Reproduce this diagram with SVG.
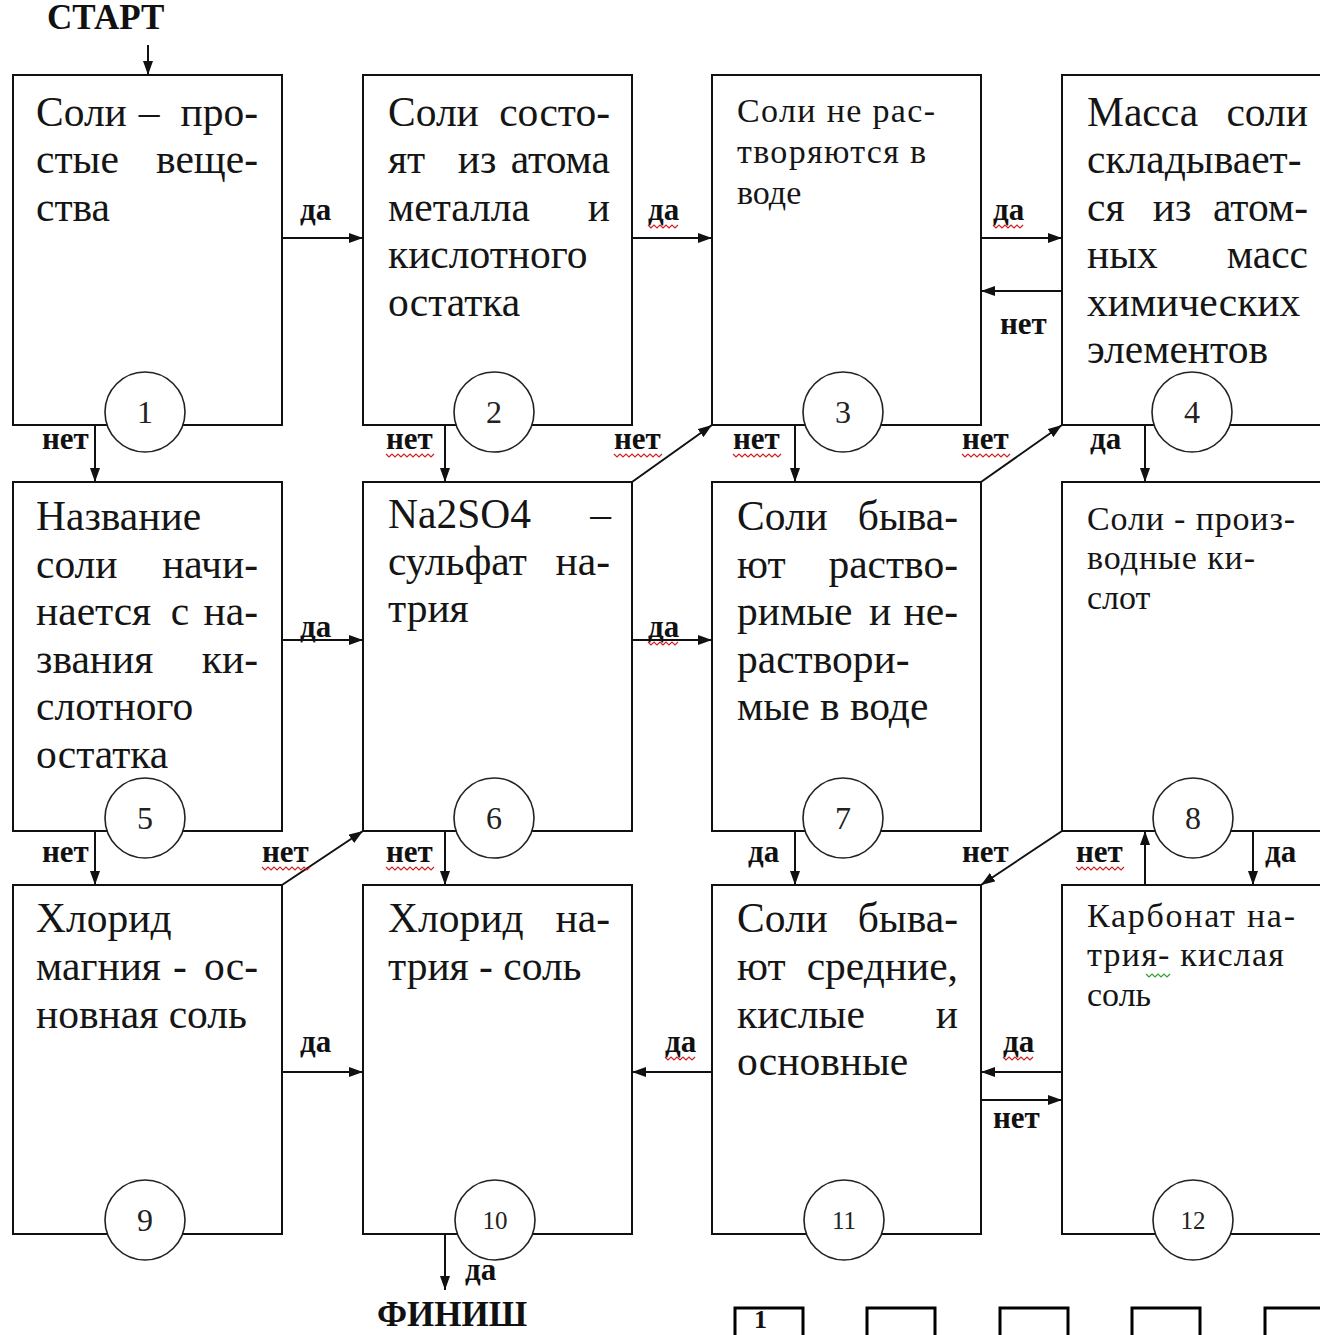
<svg xmlns="http://www.w3.org/2000/svg" xmlns:xlink="http://www.w3.org/1999/xlink" width="1320" height="1335" viewBox="0 0 1320 1335">
<style>
.box{fill:#fff;stroke:#111;stroke-width:2}
.cir{fill:#fff;stroke:#222;stroke-width:1.6}
.t{font-family:"Liberation Serif","DejaVu Serif",serif;font-size:41.5px;fill:#151515}
.ts{font-family:"Liberation Serif","DejaVu Serif",serif;font-size:34px;fill:#151515}
.e{text-anchor:end}
.m{text-anchor:middle}
.num{font-family:"Liberation Serif","DejaVu Serif",serif;font-size:32px;fill:#222;text-anchor:middle}
.nums{font-family:"Liberation Serif","DejaVu Serif",serif;font-size:25px;fill:#222;text-anchor:middle}
.lb{font-family:"Liberation Serif","DejaVu Serif",serif;font-size:31px;font-weight:bold;fill:#111}
.big{font-family:"Liberation Serif","DejaVu Serif",serif;font-size:35px;font-weight:bold;fill:#111}
.con line{stroke:#111;stroke-width:2;marker-end:url(#ah)}
.sq{fill:none;stroke:#d02020;stroke-width:1.2}
.sqg{fill:none;stroke:#30a030;stroke-width:1.2}
.ans{fill:none;stroke:#000;stroke-width:3}
</style>
<defs>
<marker id="ah" viewBox="0 0 14 10" refX="14" refY="5" markerWidth="14" markerHeight="10" orient="auto" markerUnits="userSpaceOnUse">
<path d="M0,0 L14,5 L0,10 z" fill="#111"/>
</marker>
<path id="sq3" class="sq" d="M0,0 l3,3 l3,-3 l3,3 l3,-3 l3,3 l3,-3 l3,3 l3,-3 l3,3 l3,-3 l3,3 l3,-3 l3,3 l3,-3 l3,3 l3,-3"/>
<path id="sq2" class="sq" d="M0,0 l3,3 l3,-3 l3,3 l3,-3 l3,3 l3,-3 l3,3 l3,-3 l3,3 l3,-3"/>
</defs>
<rect width="1320" height="1335" fill="#fff"/>

<text class="big" x="47" y="29">СТАРТ</text>
<text class="big" x="377" y="1326">ФИНИШ</text>

<g id="n1"><rect class="box" x="13" y="75" width="269" height="350"/><circle class="cir" cx="145" cy="412" r="40"/><text class="num" x="145" y="423">1</text>
<text class="t" x="36" y="126">Соли</text><text class="t m" x="149" y="126">–</text><text class="t e" x="258" y="126">про-</text>
<text class="t" x="36" y="173">стые</text><text class="t e" x="258" y="173">веще-</text>
<text class="t" x="36" y="221">ства</text></g>

<g id="n2"><rect class="box" x="363" y="75" width="269" height="350"/><circle class="cir" cx="494" cy="412" r="40"/><text class="num" x="494" y="423">2</text>
<text class="t" x="388" y="126">Соли</text><text class="t e" x="610" y="126">состо-</text>
<text class="t" x="388" y="173">ят</text><text class="t m" x="477" y="173">из</text><text class="t e" x="610" y="173">атома</text>
<text class="t" x="388" y="221">металла</text><text class="t e" x="610" y="221">и</text>
<text class="t" x="388" y="268">кислотного</text>
<text class="t" x="388" y="316">остатка</text></g>

<g id="n3"><rect class="box" x="712" y="75" width="269" height="350"/><circle class="cir" cx="843" cy="412" r="40"/><text class="num" x="843" y="423">3</text>
<text class="ts" x="737" y="122" textLength="198" lengthAdjust="spacing">Соли не рас-</text>
<text class="ts" x="737" y="163" textLength="189" lengthAdjust="spacing">творяются в</text>
<text class="ts" x="737" y="204">воде</text></g>

<g id="n4"><rect class="box" x="1062" y="75" width="270" height="350"/><circle class="cir" cx="1192" cy="412" r="40"/><text class="num" x="1192" y="423">4</text>
<text class="t" x="1087" y="126">Масса</text><text class="t e" x="1308" y="126">соли</text>
<text class="t" x="1087" y="173">складывает-</text>
<text class="t" x="1087" y="221">ся</text><text class="t m" x="1172" y="221">из</text><text class="t e" x="1308" y="221">атом-</text>
<text class="t" x="1087" y="268">ных</text><text class="t e" x="1308" y="268">масс</text>
<text class="t" x="1087" y="316">химических</text>
<text class="t" x="1087" y="363">элементов</text></g>

<g id="n5"><rect class="box" x="13" y="482" width="269" height="349"/><circle class="cir" cx="145" cy="818" r="40"/><text class="num" x="145" y="829">5</text>
<text class="t" x="36" y="530">Название</text>
<text class="t" x="36" y="578">соли</text><text class="t e" x="258" y="578">начи-</text>
<text class="t" x="36" y="625">нается</text><text class="t m" x="180" y="625">с</text><text class="t e" x="258" y="625">на-</text>
<text class="t" x="36" y="673">звания</text><text class="t e" x="258" y="673">ки-</text>
<text class="t" x="36" y="720">слотного</text>
<text class="t" x="36" y="768">остатка</text></g>

<g id="n6"><rect class="box" x="363" y="482" width="269" height="349"/><circle class="cir" cx="494" cy="818" r="40"/><text class="num" x="494" y="829">6</text>
<text class="t" x="388" y="528">Na2SO4</text><text class="t e" x="611" y="528">–</text>
<text class="t" x="388" y="575">сульфат</text><text class="t e" x="610" y="575">на-</text>
<text class="t" x="388" y="622">трия</text></g>

<g id="n7"><rect class="box" x="712" y="482" width="269" height="349"/><circle class="cir" cx="843" cy="818" r="40"/><text class="num" x="843" y="829">7</text>
<text class="t" x="737" y="530">Соли</text><text class="t e" x="958" y="530">быва-</text>
<text class="t" x="737" y="578">ют</text><text class="t e" x="958" y="578">раство-</text>
<text class="t" x="737" y="625">римые</text><text class="t m" x="880" y="625">и</text><text class="t e" x="958" y="625">не-</text>
<text class="t" x="737" y="673">раствори-</text>
<text class="t" x="737" y="720">мые в воде</text></g>

<g id="n8"><rect class="box" x="1062" y="482" width="270" height="349"/><circle class="cir" cx="1193" cy="818" r="40"/><text class="num" x="1193" y="829">8</text>
<text class="ts" x="1087" y="530" textLength="208" lengthAdjust="spacing">Соли - произ-</text>
<text class="ts" x="1087" y="569" textLength="168" lengthAdjust="spacing">водные ки-</text>
<text class="ts" x="1087" y="609">слот</text></g>

<g id="n9"><rect class="box" x="13" y="885" width="269" height="349"/><circle class="cir" cx="145" cy="1220" r="40"/><text class="num" x="145" y="1231">9</text>
<text class="t" x="36" y="932">Хлорид</text>
<text class="t" x="36" y="980">магния</text><text class="t m" x="180" y="980">-</text><text class="t e" x="258" y="980">ос-</text>
<text class="t" x="36" y="1028">новная соль</text></g>

<g id="n10"><rect class="box" x="363" y="885" width="269" height="349"/><circle class="cir" cx="495" cy="1220" r="40"/><text class="nums" x="495" y="1229">10</text>
<text class="t" x="388" y="932">Хлорид</text><text class="t e" x="610" y="932">на-</text>
<text class="t" x="388" y="980">трия - соль</text></g>

<g id="n11"><rect class="box" x="712" y="885" width="269" height="349"/><circle class="cir" cx="844" cy="1220" r="40"/><text class="nums" x="844" y="1229">11</text>
<text class="t" x="737" y="932">Соли</text><text class="t e" x="958" y="932">быва-</text>
<text class="t" x="737" y="980">ют</text><text class="t e" x="958" y="980">средние,</text>
<text class="t" x="737" y="1028">кислые</text><text class="t e" x="958" y="1028">и</text>
<text class="t" x="737" y="1075">основные</text></g>

<g id="n12"><rect class="box" x="1062" y="885" width="270" height="349"/><circle class="cir" cx="1193" cy="1220" r="40"/><text class="nums" x="1193" y="1229">12</text>
<text class="ts" x="1087" y="927" textLength="208" lengthAdjust="spacing">Карбонат на-</text>
<text class="ts" x="1087" y="966" textLength="197" lengthAdjust="spacing">трия- кислая</text>
<text class="ts" x="1087" y="1006">соль</text>
<path class="sqg" d="M1146,974 l3,3 l3,-3 l3,3 l3,-3 l3,3 l3,-3 l3,3 l3,-3"/></g>

<g id="connectors" class="con">
<line x1="148" y1="45" x2="148" y2="75"/>
<line x1="282" y1="238" x2="363" y2="238"/>
<line x1="632" y1="238" x2="712" y2="238"/>
<line x1="981" y1="238" x2="1062" y2="238"/>
<line x1="1062" y1="291" x2="981" y2="291"/>
<line x1="95" y1="425" x2="95" y2="482"/>
<line x1="445" y1="425" x2="445" y2="482"/>
<line x1="632" y1="482" x2="712" y2="425"/>
<line x1="795" y1="425" x2="795" y2="482"/>
<line x1="981" y1="482" x2="1062" y2="425"/>
<line x1="1145" y1="425" x2="1145" y2="482"/>
<line x1="282" y1="640" x2="363" y2="640"/>
<line x1="632" y1="640" x2="712" y2="640"/>
<line x1="95" y1="831" x2="95" y2="885"/>
<line x1="282" y1="885" x2="363" y2="831"/>
<line x1="445" y1="831" x2="445" y2="885"/>
<line x1="795" y1="831" x2="795" y2="885"/>
<line x1="1062" y1="831" x2="981" y2="885"/>
<line x1="1145" y1="885" x2="1145" y2="831"/>
<line x1="1253" y1="831" x2="1253" y2="885"/>
<line x1="282" y1="1072" x2="363" y2="1072"/>
<line x1="712" y1="1072" x2="632" y2="1072"/>
<line x1="1062" y1="1072" x2="981" y2="1072"/>
<line x1="981" y1="1100" x2="1062" y2="1100"/>
<line x1="445" y1="1234" x2="445" y2="1290"/>
</g>

<g id="labels">
<text class="lb" x="300" y="220">да</text>
<text class="lb" x="648" y="220">да</text><use xlink:href="#sq2" x="648" y="225"/>
<text class="lb" x="993" y="220">да</text><use xlink:href="#sq2" x="993" y="225"/>
<text class="lb" x="1000" y="334">нет</text>
<text class="lb" x="42" y="449">нет</text>
<text class="lb" x="386" y="449">нет</text><use xlink:href="#sq3" x="386" y="454"/>
<text class="lb" x="614" y="449">нет</text><use xlink:href="#sq3" x="614" y="454"/>
<text class="lb" x="733" y="449">нет</text><use xlink:href="#sq3" x="733" y="454"/>
<text class="lb" x="962" y="449">нет</text><use xlink:href="#sq3" x="962" y="454"/>
<text class="lb" x="1090" y="449">да</text>
<text class="lb" x="300" y="637">да</text>
<text class="lb" x="648" y="637">да</text><use xlink:href="#sq2" x="648" y="642"/>
<text class="lb" x="42" y="862">нет</text>
<text class="lb" x="262" y="862">нет</text><use xlink:href="#sq3" x="262" y="867"/>
<text class="lb" x="386" y="862">нет</text><use xlink:href="#sq3" x="386" y="867"/>
<text class="lb" x="748" y="862">да</text>
<text class="lb" x="962" y="862">нет</text>
<text class="lb" x="1076" y="862">нет</text><use xlink:href="#sq3" x="1076" y="867"/>
<text class="lb" x="1265" y="862">да</text>
<text class="lb" x="300" y="1052">да</text>
<text class="lb" x="665" y="1052">да</text><use xlink:href="#sq2" x="665" y="1057"/>
<text class="lb" x="1003" y="1052">да</text><use xlink:href="#sq2" x="1003" y="1057"/>
<text class="lb" x="993" y="1128">нет</text>
<text class="lb" x="465" y="1280">да</text>
</g>

<g id="answers">
<rect class="ans" x="735" y="1308" width="68" height="45"/>
<rect class="ans" x="867" y="1308" width="68" height="45"/>
<rect class="ans" x="1000" y="1308" width="68" height="45"/>
<rect class="ans" x="1132" y="1308" width="68" height="45"/>
<rect class="ans" x="1265" y="1308" width="68" height="45"/>
<text class="big" x="754" y="1328" style="font-size:26px">1</text>
</g>
</svg>
